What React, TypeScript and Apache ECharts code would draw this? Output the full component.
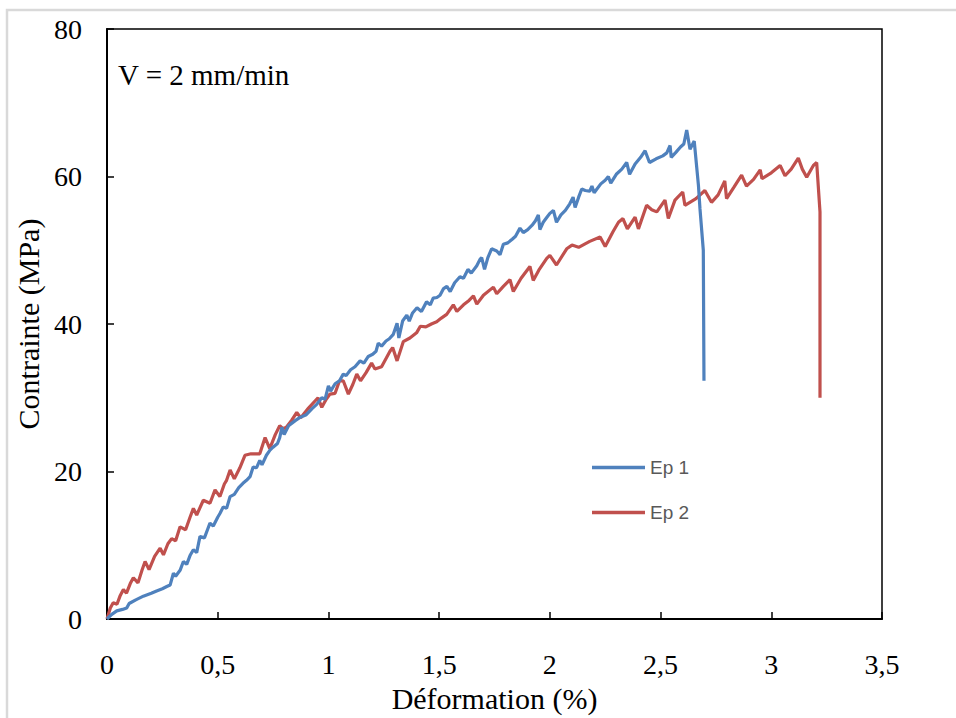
import React, { useEffect, useRef } from "react";
import * as echarts from "echarts";

const seriesNames = ["Ep 1", "Ep 2"];
const xTicks = ["0", "0,5", "1", "1,5", "2", "2,5", "3", "3,5"];
const yTicks = [0, 20, 40, 60, 80];

const ep1: [number, number][] = [
  [0, 0], [0.02, 0.6], [0.044, 1.1], [0.07, 1.3], [0.089, 1.5], [0.1, 2.1], [0.13, 2.6], [0.164, 3.1],
  [0.2, 3.5], [0.224, 3.8], [0.25, 4.1], [0.27, 4.4], [0.285, 4.6], [0.3, 6.2], [0.31, 5.8], [0.33, 6.6],
  [0.345, 7.8], [0.36, 7.4], [0.375, 8.6], [0.39, 9.4], [0.405, 9.0], [0.42, 11.2], [0.44, 11.0],
  [0.455, 12.2], [0.465, 13.0], [0.48, 12.6], [0.5, 13.8], [0.51, 14.3], [0.525, 15.2], [0.54, 15.0],
  [0.556, 16.6], [0.575, 16.9], [0.595, 17.8], [0.614, 18.4], [0.63, 18.8], [0.646, 19.3], [0.66, 20.6],
  [0.675, 20.5], [0.69, 21.5], [0.7, 20.9], [0.72, 22.2], [0.736, 22.9], [0.75, 23.3], [0.77, 23.8],
  [0.78, 24.6], [0.79, 26.0], [0.8, 25.0], [0.82, 26.2], [0.85, 26.9], [0.87, 27.3], [0.9, 27.7],
  [0.925, 28.5], [0.947, 29.1], [0.97, 30.0], [0.985, 29.8], [1.0, 31.6], [1.01, 30.9], [1.03, 31.9],
  [1.05, 32.3], [1.067, 33.2], [1.08, 33.0], [1.1, 33.8], [1.12, 34.2], [1.143, 35.0], [1.16, 34.7],
  [1.18, 35.6], [1.2, 35.9], [1.215, 36.3], [1.225, 37.4], [1.24, 37.0], [1.26, 37.7], [1.275, 38.0],
  [1.293, 38.6], [1.31, 40.1], [1.318, 38.1], [1.335, 40.4], [1.354, 41.2], [1.365, 40.4], [1.38, 41.5],
  [1.4, 42.2], [1.42, 41.7], [1.443, 43.0], [1.46, 42.6], [1.473, 43.5], [1.49, 43.6], [1.504, 43.9],
  [1.52, 44.8], [1.535, 45.1], [1.55, 44.4], [1.57, 45.6], [1.594, 46.4], [1.61, 46.2], [1.63, 47.4],
  [1.645, 46.9], [1.67, 47.9], [1.685, 48.8], [1.692, 49.0], [1.705, 47.4], [1.72, 49.0], [1.737, 50.2],
  [1.76, 49.9], [1.775, 49.4], [1.79, 50.8], [1.81, 51.0], [1.83, 51.5], [1.845, 51.9], [1.865, 53.0],
  [1.88, 52.4], [1.9, 52.8], [1.92, 53.4], [1.935, 54.0], [1.948, 54.8], [1.955, 52.8], [1.97, 53.8],
  [1.985, 54.4], [2.0, 55.0], [2.016, 55.4], [2.03, 53.8], [2.05, 54.8], [2.07, 55.4], [2.09, 56.3],
  [2.105, 57.2], [2.114, 55.8], [2.13, 57.2], [2.144, 58.3], [2.16, 58.1], [2.18, 58.0], [2.19, 58.7],
  [2.2, 57.8], [2.23, 59.0], [2.25, 59.5], [2.264, 60.0], [2.275, 59.1], [2.3, 60.3], [2.325, 61.0],
  [2.347, 61.9], [2.36, 60.3], [2.385, 61.7], [2.41, 62.6], [2.43, 63.5], [2.45, 61.9], [2.48, 62.4],
  [2.51, 62.8], [2.528, 63.2], [2.543, 64.2], [2.548, 62.6], [2.57, 63.3], [2.59, 64.0], [2.605, 64.4],
  [2.618, 66.3], [2.633, 63.7], [2.652, 64.8], [2.671, 58.8], [2.678, 55.6], [2.693, 50.0], [2.696, 32.3],
];

const ep2: [number, number][] = [
  [0, 0], [0.015, 1.5], [0.028, 2.2], [0.045, 2.0], [0.06, 3.2], [0.074, 4.0], [0.088, 3.5], [0.105, 4.8],
  [0.119, 5.6], [0.14, 4.9], [0.158, 6.6], [0.172, 7.8], [0.19, 6.7], [0.215, 8.5], [0.24, 9.6],
  [0.255, 8.7], [0.275, 10.2], [0.292, 10.9], [0.31, 10.6], [0.33, 12.5], [0.355, 12.1], [0.375, 13.8],
  [0.39, 15.0], [0.405, 14.1], [0.435, 16.1], [0.465, 15.7], [0.488, 17.5], [0.51, 16.6], [0.53, 18.3],
  [0.54, 18.8], [0.556, 20.2], [0.575, 19.0], [0.6, 20.5], [0.623, 22.2], [0.65, 22.4], [0.69, 22.4],
  [0.714, 24.6], [0.735, 23.1], [0.76, 25.0], [0.78, 26.2], [0.795, 25.8], [0.81, 26.0], [0.835, 27.0],
  [0.857, 28.0], [0.875, 27.3], [0.91, 28.6], [0.953, 30.0], [0.97, 28.7], [0.99, 29.8], [1.007, 30.5],
  [1.03, 30.6], [1.05, 32.3], [1.067, 32.3], [1.09, 30.5], [1.11, 31.8], [1.128, 33.2], [1.145, 32.3],
  [1.17, 33.4], [1.195, 34.7], [1.21, 33.9], [1.24, 34.2], [1.278, 36.3], [1.29, 36.8], [1.31, 35.0],
  [1.338, 37.6], [1.368, 38.1], [1.398, 38.8], [1.415, 39.7], [1.44, 39.6], [1.465, 40.0], [1.489, 40.3],
  [1.51, 40.8], [1.534, 41.3], [1.564, 42.6], [1.58, 41.7], [1.61, 42.6], [1.635, 43.2], [1.655, 43.8],
  [1.67, 42.7], [1.7, 43.9], [1.745, 45.0], [1.76, 44.1], [1.79, 45.1], [1.82, 46.0], [1.835, 44.4],
  [1.87, 46.2], [1.91, 47.8], [1.925, 45.9], [1.95, 47.3], [1.986, 48.9], [2.0, 49.3], [2.03, 48.0],
  [2.076, 50.2], [2.1, 50.7], [2.13, 50.4], [2.18, 51.2], [2.227, 51.8], [2.25, 50.5], [2.285, 52.5],
  [2.31, 53.8], [2.33, 54.3], [2.35, 52.9], [2.385, 54.5], [2.4, 52.9], [2.437, 56.1], [2.46, 55.5],
  [2.483, 55.2], [2.52, 56.8], [2.535, 54.3], [2.565, 56.8], [2.6, 57.9], [2.61, 56.1], [2.66, 57.0],
  [2.7, 58.1], [2.73, 56.5], [2.76, 57.5], [2.79, 59.4], [2.798, 57.0], [2.83, 58.5], [2.866, 60.2],
  [2.888, 58.7], [2.92, 59.6], [2.95, 60.9], [2.958, 59.7], [3.0, 60.5], [3.04, 61.5], [3.062, 60.1],
  [3.09, 61.0], [3.122, 62.5], [3.14, 61.0], [3.16, 59.9], [3.19, 61.5], [3.205, 61.9], [3.22, 55.2],
  [3.22, 30.0],
];

const annotation = "V = 2 mm/min";
const xTitle = "Déformation (%)";
const yTitle = "Contrainte (MPa)";

export default function App() {
  const ref = useRef<HTMLDivElement>(null);
  useEffect(() => {
    if (!ref.current) return;
    const chart = echarts.init(ref.current, undefined, { renderer: "svg" });
    const serif = "'Liberation Serif', 'Times New Roman', serif";
    chart.setOption({
      animation: false,
      backgroundColor: "#fff",
      grid: {
        left: 107, top: 29, width: 775, height: 594,
        show: true, borderColor: "#000", borderWidth: 1.5, backgroundColor: "transparent",
      },
      legend: {
        orient: "vertical",
        left: 587,
        top: 452,
        itemWidth: 53,
        itemHeight: 3.5,
        itemGap: 24,
        icon: "rect",
        textStyle: { fontFamily: "'Liberation Sans', Arial, sans-serif", fontSize: 19, color: "#595959", lineHeight: 21 },
        data: seriesNames,
      },
      xAxis: {
        type: "value",
        min: 0, max: 3.5, interval: 0.5,
        name: xTitle, nameLocation: "middle", nameGap: 64,
        nameTextStyle: { fontFamily: serif, fontSize: 30, color: "#000" },
        axisLine: { show: true, onZero: false, lineStyle: { color: "#000", width: 2 } },
        axisTick: { show: true, inside: true, length: 7, lineStyle: { color: "#000", width: 1.5 } },
        axisLabel: {
          margin: 31, fontFamily: serif, fontSize: 28, color: "#000",
          formatter: (v: number) => xTicks[Math.round(v / 0.5)] ?? "",
        },
        splitLine: { show: false },
      },
      yAxis: {
        type: "value",
        min: 0, max: 80, interval: 20,
        name: yTitle, nameLocation: "middle", nameGap: 58,
        nameTextStyle: { fontFamily: serif, fontSize: 30, color: "#000" },
        axisLine: { show: true, onZero: false, lineStyle: { color: "#000", width: 2 } },
        axisTick: { show: true, inside: true, length: 7, lineStyle: { color: "#000", width: 1.5 } },
        axisLabel: {
          margin: 25, fontFamily: serif, fontSize: 28, color: "#000",
          formatter: (v: number) => (yTicks.includes(v) ? String(v) : ""),
        },
        splitLine: { show: false },
      },
      graphic: [
        {
          type: "rect", silent: true, z: -10,
          shape: { x: 7, y: 10, width: 1000, height: 800 },
          style: { fill: "none", stroke: "#d9d9d9", lineWidth: 2.5 },
        },
        {
          type: "text", left: 118, top: 60,
          style: { text: annotation, font: `29px ${serif}`, fill: "#000" },
        },
      ],
      series: [
        {
          name: seriesNames[0], type: "line", data: ep1, showSymbol: false, symbol: "none",
          lineStyle: { color: "#4F81BD", width: 3.2 }, itemStyle: { color: "#4F81BD" }, z: 3,
        },
        {
          name: seriesNames[1], type: "line", data: ep2, showSymbol: false, symbol: "none",
          lineStyle: { color: "#C0504D", width: 3.2 }, itemStyle: { color: "#C0504D" }, z: 2,
        },
      ],
    });
    return () => chart.dispose();
  }, []);
  return (
    <div
      ref={ref}
      style={{ position: "absolute", left: 0, top: 0, width: 956, height: 718 }}
    />
  );
}
